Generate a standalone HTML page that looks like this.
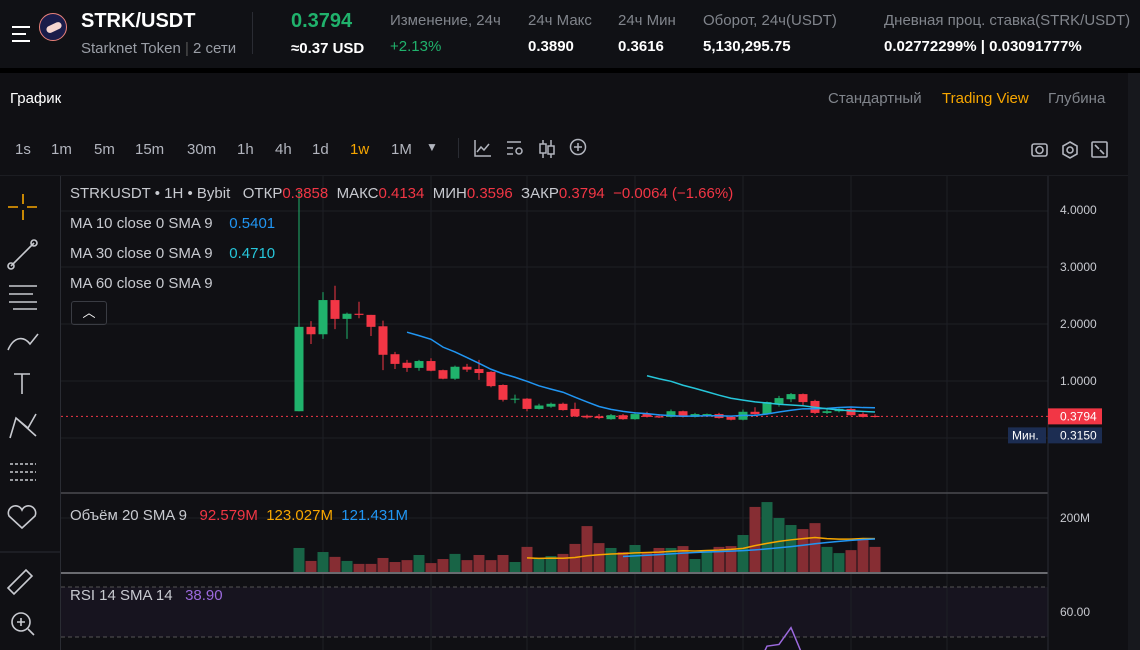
<!DOCTYPE html>
<html><head><meta charset="utf-8">
<style>
*{margin:0;padding:0;box-sizing:border-box}
html,body{width:1140px;height:650px;overflow:hidden}
body{background:#101014;font-family:"Liberation Sans","DejaVu Sans",sans-serif;color:#d1d4dc;position:relative}
.abs{position:absolute;white-space:nowrap}
.hdr{position:absolute;left:0;top:0;width:1140px;height:68px;background:#101115}
.gap{position:absolute;left:0;top:68px;width:1140px;height:5px;background:#000}
.lbl{color:#81858c;font-size:15px}
.val{color:#fff;font-size:15px;font-weight:bold}
.tf{font-size:15px;color:#b2b5be}
</style></head><body>
<div class="hdr">
 <div class="abs" style="left:12px;top:26px;width:20px">
  <div style="height:2px;background:#fff;margin-bottom:5px;width:18px"></div><div style="height:2px;background:#fff;margin-bottom:5px;width:14px"></div><div style="height:2px;background:#fff;width:18px"></div></div>
 <div class="abs" style="left:39px;top:13px;width:28px;height:28px;border-radius:50%;background:#1a1c4a;border:1px solid #e9817a"><div style="position:absolute;left:6px;top:10px;width:16px;height:7px;border-radius:6px;background:#f5d5d0;transform:rotate(-25deg)"></div></div>
 <div class="abs" style="left:81px;top:10px;font-size:20px;font-weight:bold;color:#fff">STRK/USDT</div>
 <div class="abs" style="left:81px;top:40px;font-size:15px;color:#9a9ea6">Starknet Token <span style="color:#555">|</span> 2 сети</div>
 <div class="abs" style="left:252px;top:12px;width:1px;height:42px;background:#2a2c33"></div>
 <div class="abs" style="left:291px;top:10px;font-size:20px;font-weight:bold;color:#20b26c">0.3794</div>
 <div class="abs" style="left:291px;top:40px;font-size:15px;font-weight:bold;color:#fff">≈0.37 USD</div>
 <div class="abs lbl" style="left:390px;top:12px">Изменение, 24ч</div>
 <div class="abs" style="left:390px;top:38px;font-size:15px;color:#20b26c">+2.13%</div>
 <div class="abs lbl" style="left:528px;top:12px">24ч Макс</div>
 <div class="abs val" style="left:528px;top:38px">0.3890</div>
 <div class="abs lbl" style="left:618px;top:12px">24ч Мин</div>
 <div class="abs val" style="left:618px;top:38px">0.3616</div>
 <div class="abs lbl" style="left:703px;top:12px">Оборот, 24ч(USDT)</div>
 <div class="abs val" style="left:703px;top:38px">5,130,295.75</div>
 <div class="abs lbl" style="left:884px;top:12px">Дневная проц. ставка(STRK/USDT)</div>
 <div class="abs val" style="left:884px;top:38px">0.02772299% | 0.03091777%</div>
</div>
<div class="gap"></div>
<div class="abs" style="left:10px;top:90px;font-size:15px;color:#fff">График</div>
<div class="abs" style="left:828px;top:90px;font-size:15px;color:#81858c">Стандартный</div>
<div class="abs" style="left:942px;top:90px;font-size:15px;color:#f7a600">Trading View</div>
<div class="abs" style="left:1048px;top:90px;font-size:15px;color:#81858c">Глубина</div>
<div class="abs" style="left:1128px;top:73px;width:12px;height:577px;background:#17181d"></div>
<div class="abs tf" style="left:15px;top:141px">1s</div>
<div class="abs tf" style="left:51px;top:141px">1m</div>
<div class="abs tf" style="left:94px;top:141px">5m</div>
<div class="abs tf" style="left:135px;top:141px">15m</div>
<div class="abs tf" style="left:187px;top:141px">30m</div>
<div class="abs tf" style="left:237px;top:141px">1h</div>
<div class="abs tf" style="left:275px;top:141px">4h</div>
<div class="abs tf" style="left:312px;top:141px">1d</div>
<div class="abs tf" style="left:350px;top:141px;color:#f7a600">1w</div>
<div class="abs tf" style="left:391px;top:141px">1M</div>
<div class="abs tf" style="left:426px;top:140px;font-size:12px">▼</div>
<div class="abs" style="left:458px;top:138px;width:1px;height:20px;background:#2a2c33"></div>
<svg class="abs" style="left:470px;top:136px" width="130" height="26">
 <g stroke="#b2b5be" fill="none" stroke-width="1.5">
  <path d="M5 4v16h16M7 16l4-5 3 3 5-6"/>
  <path d="M37 6h14M37 12h6M37 18h6"/><circle cx="49" cy="15" r="3"/>
  <path d="M73 4v18M81 4v18" /><rect x="70" y="8" width="6" height="9" fill="#101014"/><rect x="78" y="10" width="6" height="8" fill="#101014"/>
  <circle cx="108" cy="11" r="7.5"/><path d="M108 7v8M104 11h8"/>
 </g>
</svg>
<svg class="abs" style="left:1028px;top:138px" width="86" height="24">
 <g stroke="#b2b5be" fill="none" stroke-width="1.6">
  <rect x="4" y="6" width="15" height="12" rx="2"/><circle cx="11.5" cy="12" r="3.5"/>
  <path d="M42 4l7 4v8l-7 4-7-4V8z"/><circle cx="42" cy="12" r="3"/>
  <rect x="64" y="4" width="15" height="15" rx="1"/><path d="M67 7l4 4M76 16l-4-4"/>
 </g>
</svg>
<div class="abs" style="left:0;top:175px;width:1128px;height:1px;background:#1c1d22"></div>
<svg class="abs" style="left:0;top:176px" width="60" height="474">
 <g stroke="#c8cad0" fill="none" stroke-width="1.6">
  <path d="M23 18v10M23 34v10M8 31h10M27 31h10" stroke="#f7a600"/>
  <path d="M11 90l23-23"/><circle cx="11" cy="90" r="3"/><circle cx="34" cy="67" r="3"/>
  <path d="M9 110h28M9 118h24M9 126h28M13 133h24"/>
  <path d="M8 174c6-14 16-14 22-6l8-10"/>
  <path d="M14 198h16M22 198v20"/>
  <path d="M10 262l6-20 12 10 8-14M16 242l20 18"/>
  <path d="M10 288h26M10 296h26M10 304h26" stroke-dasharray="3 2"/>
  <path d="M22 352l-13-12a6 6 0 0 1 13-6 6 6 0 0 1 13 6z"/>
  <path d="M8 412l18-18 6 6-18 18z"/>
  <circle cx="21" cy="446" r="9"/><path d="M28 453l6 6M17 446h8M21 442v8"/>
 </g>
 <path d="M0 376h60" stroke="#2a2c33"/>
</svg>
<div class="abs" style="left:60px;top:176px;width:1px;height:474px;background:#2a2c33"></div>
<svg id="chart" class="abs" style="left:0;top:0" width="1128" height="650"></svg>
<div class="abs" style="left:70px;top:185px;font-size:15px;color:#c8cad0">STRKUSDT • 1H • Bybit &nbsp; ОТКР<span style="color:#f23645">0.3858</span> &nbsp;МАКС<span style="color:#f23645">0.4134</span> &nbsp;МИН<span style="color:#f23645">0.3596</span> &nbsp;ЗАКР<span style="color:#f23645">0.3794</span> &nbsp;<span style="color:#f23645">−0.0064 (−1.66%)</span></div>
<div class="abs" style="left:70px;top:215px;font-size:15px;color:#c8cad0">MA 10 close 0 SMA 9 &nbsp;&nbsp;&nbsp;<span style="color:#2196f3">0.5401</span></div>
<div class="abs" style="left:70px;top:245px;font-size:15px;color:#c8cad0">MA 30 close 0 SMA 9 &nbsp;&nbsp;&nbsp;<span style="color:#26c6da">0.4710</span></div>
<div class="abs" style="left:70px;top:275px;font-size:15px;color:#c8cad0">MA 60 close 0 SMA 9</div>
<div class="abs" style="left:71px;top:301px;width:36px;height:24px;border:1px solid #3a3c43;border-radius:3px;color:#fff;text-align:center;font-size:13px;line-height:22px">︿</div>
<div class="abs" style="left:70px;top:507px;font-size:15px;color:#c8cad0">Объём 20 SMA 9 &nbsp;&nbsp;<span style="color:#f23645">92.579M</span> &nbsp;<span style="color:#f7a600">123.027M</span> &nbsp;<span style="color:#2196f3">121.431M</span></div>
<div class="abs" style="left:70px;top:587px;font-size:15px;color:#c8cad0">RSI 14 SMA 14 &nbsp;&nbsp;<span style="color:#9c6ade">38.90</span></div>
<script>
const opens  =[0.47,1.95,1.82,2.42,2.09,2.18,2.16,1.96,1.47,1.32,1.23,1.35,1.19,1.04,1.25,1.21,1.16,0.93,0.69,0.69,0.51,0.55,0.60,0.51,0.39,0.38,0.33,0.40,0.33,0.42,0.38,0.37,0.47,0.37,0.40,0.42,0.37,0.32,0.46,0.42,0.60,0.68,0.77,0.65,0.44,0.47,0.51,0.42,0.3858];
const highs  =[4.35,2.05,2.56,2.67,2.20,2.39,2.16,2.06,1.51,1.37,1.37,1.40,1.20,1.27,1.30,1.37,1.17,0.94,0.76,0.70,0.60,0.62,0.62,0.62,0.41,0.42,0.42,0.42,0.43,0.46,0.42,0.50,0.48,0.44,0.43,0.44,0.38,0.50,0.54,0.64,0.74,0.79,0.78,0.67,0.50,0.52,0.53,0.45,0.4134];
const lows   =[0.47,1.65,1.74,1.91,1.74,2.10,1.79,1.19,1.21,1.16,1.18,1.17,1.03,1.02,1.16,1.02,0.89,0.64,0.61,0.47,0.50,0.53,0.48,0.37,0.34,0.33,0.32,0.32,0.32,0.36,0.35,0.36,0.36,0.36,0.39,0.34,0.31,0.31,0.41,0.41,0.55,0.63,0.56,0.42,0.42,0.45,0.39,0.36,0.3596];
const closes =[1.95,1.82,2.42,2.09,2.18,2.16,1.95,1.46,1.30,1.23,1.35,1.18,1.04,1.25,1.20,1.14,0.91,0.67,0.69,0.51,0.57,0.60,0.49,0.38,0.36,0.35,0.40,0.33,0.42,0.37,0.36,0.47,0.37,0.42,0.42,0.35,0.32,0.46,0.42,0.63,0.70,0.77,0.63,0.44,0.47,0.51,0.40,0.37,0.3794];
const volumes=[89,41,74,56,41,30,30,52,37,44,63,33,48,67,44,63,44,63,37,93,52,59,67,104,170,107,89,74,100,70,89,89,96,48,81,93,96,137,241,259,200,174,159,181,93,70,81,122,93];
const priceTicks=["4.0000","3.0000","2.0000","1.0000"];
const volTicks=["200M"];
const rsiTicks=["60.00"];
const vGrid=[323,431,527,635,743,851,947];
const NS="http://www.w3.org/2000/svg";
const svg=document.getElementById('chart');
function mk(tag,at,parent){const e=document.createElementNS(NS,tag);for(const k in at)e.setAttribute(k,at[k]);(parent||svg).appendChild(e);return e;}
const x=i=>299+i*12;
const py=p=>438-p*57;
const vy=v=>572-v*0.27;
const ry=r=>628-(r-71)*2.5;
const rsiTickY=612;
const rb=mk('rect',{x:61,y:587,width:987,height:50,fill:'#17141f'});

[211,267,324,381,438,518].forEach(y=>mk('line',{x1:61,x2:1048,y1:y,y2:y,stroke:'#1e1f25'}));
vGrid.forEach(g=>mk('line',{x1:g,x2:g,y1:176,y2:650,stroke:'#1e1f25'}));
mk('line',{x1:61,x2:1048,y1:587,y2:587,stroke:'#555',"stroke-dasharray":'4 3'});
mk('line',{x1:61,x2:1048,y1:637,y2:637,stroke:'#555',"stroke-dasharray":'4 3'});
mk('line',{x1:61,x2:1048,y1:493,y2:493,stroke:'#4a4b50','stroke-width':1.5});
mk('line',{x1:61,x2:1048,y1:573,y2:573,stroke:'#6a6b70','stroke-width':2});
mk('line',{x1:1048,x2:1048,y1:176,y2:650,stroke:'#2a2c33'});
priceTicks.forEach(t=>{const e=mk('text',{x:1060,y:py(parseFloat(t))+4,fill:'#c8cad0','font-size':12,'font-family':'Liberation Sans'});e.textContent=t;});
volTicks.forEach(t=>{const e=mk('text',{x:1060,y:vy(parseFloat(t))+4,fill:'#c8cad0','font-size':12,'font-family':'Liberation Sans'});e.textContent=t;});
rsiTicks.forEach(t=>{const e=mk('text',{x:1060,y:rsiTickY+4,fill:'#c8cad0','font-size':12,'font-family':'Liberation Sans'});e.textContent=t;});
volumes.forEach((v,i)=>{const up=closes[i]>=opens[i];const r=mk('rect',{x:x(i)-5.5,y:vy(v),width:11,height:572-vy(v),fill:up?'#186446':'#862d33'});
});
function sma(arr,n){return arr.map((_,i)=>{if(i<n-1)return null;let s=0;for(let k=i-n+1;k<=i;k++){if(arr[k]==null)return null;s+=arr[k];}return s/n;});}
function line(vals,fy,col,name,w){let d='';vals.forEach((v,i)=>{if(v==null)return;d+=(d?'L':'M')+x(i)+' '+fy(v);});const p=mk('path',{d:d,stroke:col,fill:'none','stroke-width':w||1.5});}
const vma=sma(volumes,20);
line(vma,vy,'#f7a600','volume-ma20');
line(sma(vma,9),vy,'#2196f3','volume-ma-sma9');
const lc=closes[closes.length-1];
mk('line',{x1:61,x2:1048,y1:py(lc),y2:py(lc),stroke:'#f23645','stroke-dasharray':'2 3'});
closes.forEach((c,i)=>{const o=opens[i],up=c>=o,col=up?'#20b26c':'#f23645';const g=mk('g',{});

mk('line',{x1:x(i),x2:x(i),y1:py(highs[i]),y2:py(lows[i]),stroke:col},g);
const t=py(Math.max(o,c)),b=py(Math.min(o,c));mk('rect',{x:x(i)-4.5,y:t,width:9,height:Math.max(1,b-t),fill:col},g);});
line(sma(closes,10),py,'#2196f3','ma10-line');
line(sma(closes,30),py,'#26c6da','ma30-line');
const rsi=closes.map((_,i)=>{if(i<14)return null;let g=0,l=0;for(let k=i-13;k<=i;k++){const d=closes[k]-closes[k-1];if(d>0)g+=d;else l-=d;}return l===0?100:100-100/(1+g/l);});
const cp=mk('clipPath',{id:'rc'});mk('rect',{x:61,y:575,width:987,height:75},cp);
let d='';rsi.forEach((v,i)=>{if(v==null)return;d+=(d?'L':'M')+x(i)+' '+ry(v);});
const rp=mk('path',{d:d,stroke:'#9c6ade',fill:'none','stroke-width':1.5,'clip-path':'url(#rc)'});
const pl=mk('rect',{x:1048,y:py(lc)-8,width:54,height:16,fill:'#f23645'});
const pt=mk('text',{x:1060,y:py(lc)+4,fill:'#fff','font-size':12,'font-family':'Liberation Sans'});pt.textContent='0.3794';
const minY=py(lc)+19;
mk('rect',{x:1008,y:minY-8,width:38,height:16,fill:'#1c2d52'});
const mt=mk('text',{x:1012,y:minY+4,fill:'#fff','font-size':12,'font-family':'Liberation Sans'});mt.textContent='Мин.';
const ml=mk('rect',{x:1048,y:minY-8,width:54,height:16,fill:'#1c2d52'});
const mv=mk('text',{x:1060,y:minY+4,fill:'#fff','font-size':12,'font-family':'Liberation Sans'});mv.textContent='0.3150';
</script>
</body></html>
